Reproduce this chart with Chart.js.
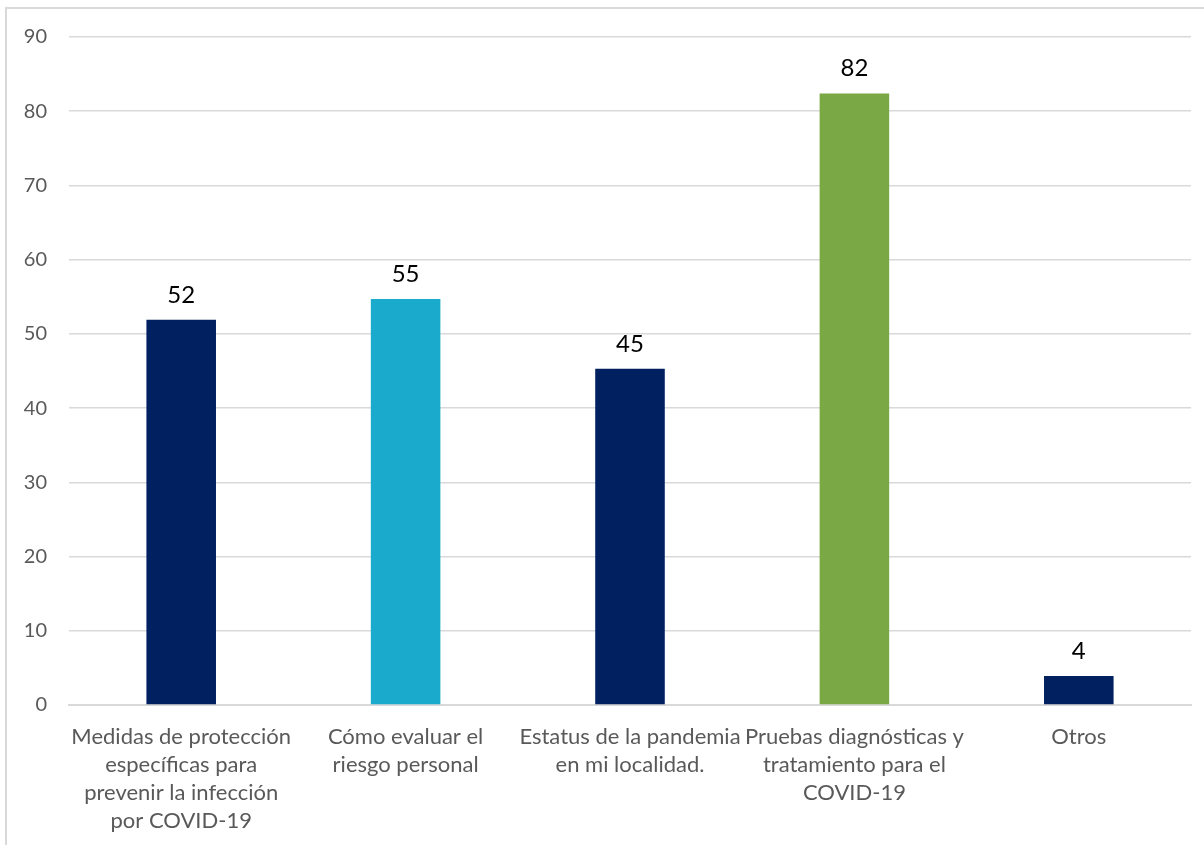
<!DOCTYPE html>
<html>
<head>
<meta charset="utf-8">
<script src="https://cdn.jsdelivr.net/npm/chart.js@4"></script>
<style>
  html, body { margin: 0; padding: 0; background: #fff; }
  #wrap { position: relative; width: 1204px; height: 845px; overflow: hidden; }
  #frame { position: absolute; left: 5px; top: 7px; width: 1300px; height: 900px; border: 2px solid #d9d9d9; box-sizing: border-box; }
  #myChart { position: absolute; left: 0; top: 0; }
</style>
</head>
<body>
<div id="wrap">
  <div id="frame"></div>
  <canvas id="myChart" width="1204" height="845"></canvas>
</div>
<script>
const categories = [
  ['Medidas de protección', 'específicas para', 'prevenir la infección', 'por COVID-19'],
  ['Cómo evaluar el', 'riesgo personal'],
  ['Estatus de la pandemia', 'en mi localidad.'],
  ['Pruebas diagnósticas y', 'tratamiento para el', 'COVID-19'],
  ['Otros']
];
const values = [51.9, 54.7, 45.3, 82.4, 3.9];
const barColors = ['#002060', '#1aaacb', '#002060', '#7aa845', '#002060'];
const yTicks = [0, 10, 20, 30, 40, 50, 60, 70, 80, 90];

const labelPlugin = {
  id: 'valueLabels',
  afterDatasetsDraw(chart) {
    const ctx = chart.ctx;
    const meta = chart.getDatasetMeta(0);
    ctx.save();
    ctx.font = '24px Lato';
    ctx.fillStyle = '#000';
    ctx.textAlign = 'center';
    ctx.textBaseline = 'bottom';
    meta.data.forEach((bar, i) => {
      ctx.fillText(Math.round(values[i]), bar.x, bar.y - 13);
    });
    ctx.restore();
  }
};

const ctx = document.getElementById('myChart').getContext('2d');
new Chart(ctx, {
  type: 'bar',
  data: {
    labels: categories,
    datasets: [{
      data: values,
      backgroundColor: barColors,
      barPercentage: 0.31,
      categoryPercentage: 1
    }]
  },
  options: {
    responsive: false,
    animation: false,
    layout: { padding: { top: 37, right: 13, left: 0, bottom: 0 } },
    plugins: { legend: { display: false }, tooltip: { enabled: false } },
    scales: {
      x: {
        grid: { display: false, drawTicks: false },
        border: { display: true, color: '#d9d9d9', width: 2 },
        ticks: {
          color: '#595959',
          font: { family: 'Lato', size: 22, lineHeight: 1.27 },
          padding: 18,
          maxRotation: 0,
          autoSkip: false
        },
        afterFit(scale) { scale.height = 140; }
      },
      y: {
        min: 0,
        max: 90,
        afterBuildTicks(scale) { scale.ticks = yTicks.map(v => ({ value: v })); },
        grid: { color: '#d9d9d9', lineWidth: 1.5, drawTicks: false },
        border: { display: false },
        ticks: {
          color: '#595959',
          font: { family: 'Lato', size: 20 },
          padding: 22
        },
        afterFit(scale) { scale.width = 69; }
      }
    }
  },
  plugins: [labelPlugin]
});
</script>
</body>
</html>
